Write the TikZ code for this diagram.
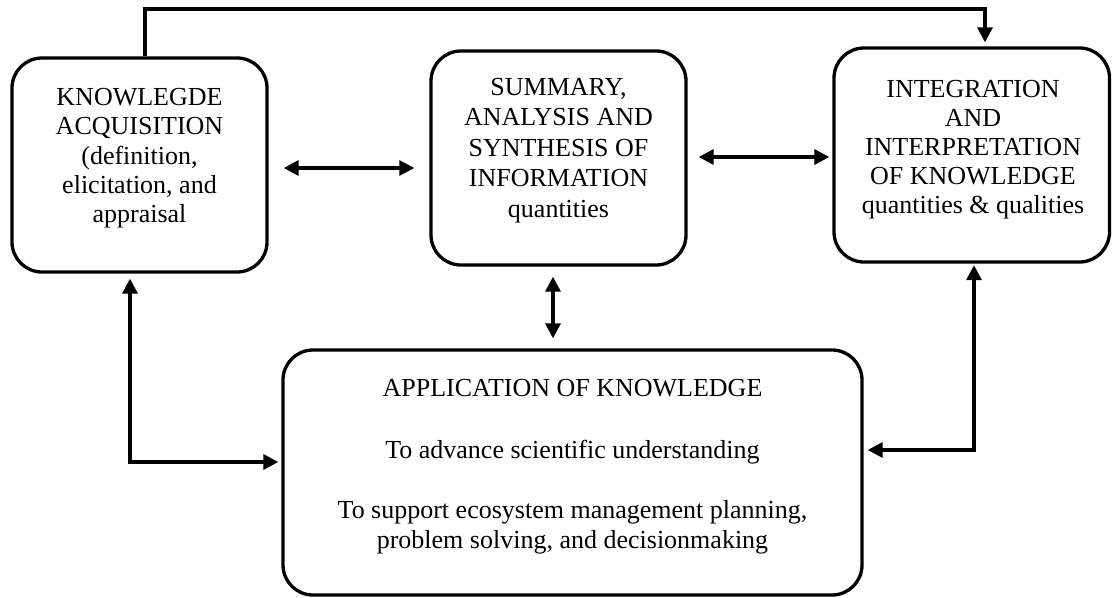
\documentclass[tikz,border=0pt]{standalone}
\usepackage{fontspec}
\setmainfont{Liberation Serif}
\usetikzlibrary{arrows.meta}
\begin{document}
\begin{tikzpicture}[x=1pt,y=-1pt,
  >={Triangle[length=15pt,width=15pt]},
  box/.style={draw=black, line width=3.3pt, rounded corners=30pt, inner sep=0pt},
  txt/.style={anchor=north, inner sep=0pt, align=center,
    execute at begin node={\rule{0pt}{20pt}}},
  conn/.style={draw=black, line width=3.2pt, line join=miter}
]
\useasboundingbox (0,0) rectangle (1113,597);

% boxes
\node[box, minimum width=255pt, minimum height=214pt] (A) at (139.5,165) {};
\node[box, minimum width=255pt, minimum height=214pt] (B) at (558.5,158) {};
\node[box, minimum width=275.5pt, minimum height=214pt] (C) at (971.75,155) {};
\node[box, minimum width=579pt, minimum height=245pt] (D) at (572.5,472.5) {};

% texts
\node[txt, font=\fontsize{26}{29.3}\selectfont] (tA) at (139.5,88)
  {KNOWLEGDE\\ACQUISITION\\(definition,\\elicitation, and\\appraisal};
\node[txt, font=\fontsize{26}{30.5}\selectfont] (tB) at (558.5,78)
  {SUMMARY,\\ANALYSIS AND\\SYNTHESIS OF\\INFORMATION\\quantities};
\node[txt, font=\fontsize{26}{29}\selectfont] (tC) at (973,80)
  {INTEGRATION\\AND\\INTERPRETATION\\OF KNOWLEDGE\\quantities \& qualities};
\node[txt, font=\fontsize{26}{30}\selectfont] (tD) at (572.5,379)
  {APPLICATION OF KNOWLEDGE\\[32pt]To advance scientific understanding\\[30pt]To support ecosystem management planning,\\problem solving, and decisionmaking};

% helper coordinates
\coordinate (t1) at (145,9);
\coordinate (t2) at (985,9);
\coordinate (yAB) at (0,168);
\coordinate (yBC) at (0,157);
\coordinate (xBD) at (553,0);
\coordinate (l1) at (130,462);
\coordinate (r1) at (974,450);

% connectors
\draw[conn,->, shorten >=4pt] (A.north -| t1) -- (t1) -- (t2) -- (C.north -| t2);
\draw[conn,<->, shorten <=15pt, shorten >=15pt] (A.east |- yAB) -- (B.west |- yAB);
\draw[conn,<->, shorten <=11pt, shorten >=3pt] (B.east |- yBC) -- (C.west |- yBC);
\draw[conn,<->, shorten <=10pt, shorten >=10pt] (B.south -| xBD) -- (D.north -| xBD);
\draw[conn,<->, shorten <=5pt, shorten >=3pt] (A.south -| l1) -- (l1) -- (D.west |- l1);
\draw[conn,<->, shorten <=1.5pt, shorten >=4pt] (C.south -| r1) -- (r1) -- (D.east |- r1);
\end{tikzpicture}
\end{document}
